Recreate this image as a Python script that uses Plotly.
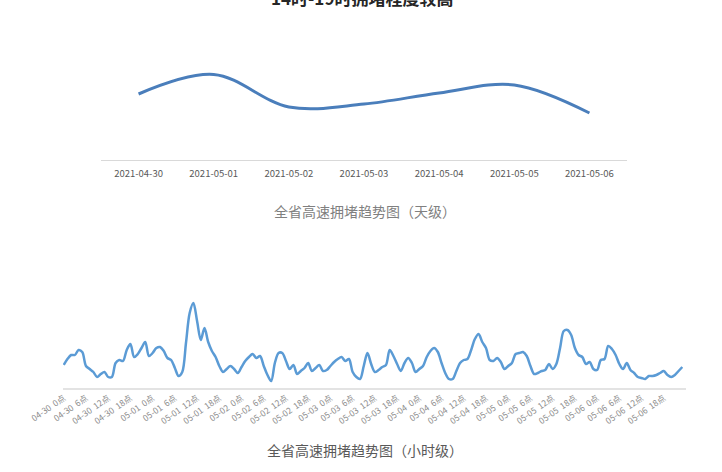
import plotly.graph_objects as go

W, H = 722, 472

# ---- daily data ----
days = ["2021-04-30", "2021-05-01", "2021-05-02", "2021-05-03",
        "2021-05-04", "2021-05-05", "2021-05-06"]
daily_values = [66, 85.5, 53, 56, 67, 75, 47]

# ---- hourly data (04-30 0点 .. 05-06 23点) ----
hourly_values = [
    23, 29, 33, 33, 38, 36, 22, 19, 16, 11, 14, 16,
    11, 11, 25, 28, 27, 38, 44, 31, 34, 40, 46, 32,
    35, 40, 41, 37, 30, 28, 20, 12, 16, 45, 75, 85,
    67, 48, 60, 46, 37, 31, 22, 16, 19, 22, 19, 15,
    21, 27, 31, 34, 30, 32, 22, 13, 7, 25, 35, 35,
    27, 19, 23, 14, 17, 20, 25, 17, 20, 23, 17, 18,
    22, 26, 29, 31, 27, 29, 16, 11, 9, 22, 35, 24,
    16, 18, 21, 23, 38, 32, 24, 17, 25, 30, 25, 16,
    19, 22, 31, 37, 40, 36, 25, 15, 9, 9, 17, 25,
    28, 29, 38, 49, 54, 46, 40, 28, 27, 30, 26, 19,
    22, 25, 34, 35, 36, 32, 22, 14, 15, 17, 18, 24,
    19, 24, 40, 57, 58, 53, 40, 33, 31, 24, 26, 19,
    18, 28, 29, 42, 39, 33, 24, 19, 25, 18, 15, 11,
    10, 9, 12, 12, 13, 15, 17, 13, 11, 13, 17, 21,
]
hour_index = list(range(len(hourly_values)))

hour_tick_labels = [
    "04-30  0点", "04-30  6点", "04-30  12点", "04-30  18点",
    "05-01  0点", "05-01  6点", "05-01  12点", "05-01  18点",
    "05-02  0点", "05-02  6点", "05-02  12点", "05-02  18点",
    "05-03  0点", "05-03  6点", "05-03  12点", "05-03  18点",
    "05-04  0点", "05-04  6点", "05-04  12点", "05-04  18点",
    "05-05  0点", "05-05  6点", "05-05  12点", "05-05  18点",
    "05-06  0点", "05-06  6点", "05-06  12点", "05-06  18点",
]
hour_tick_vals = list(range(0, 168, 6))

title_text = "14时-19时拥堵程度较高"
caption_daily = "全省高速拥堵趋势图（天级）"
caption_hourly = "全省高速拥堵趋势图（小时级）"

FONT = "Noto Sans CJK SC"

def px_x(p):
    return p / W

def px_y(p):
    return 1 - p / H

fig = go.Figure()

fig.add_trace(go.Scatter(
    x=days, y=daily_values, mode="lines",
    line=dict(color="#4a7ebb", width=3, shape="spline", smoothing=1.0),
    xaxis="x", yaxis="y", hoverinfo="skip", showlegend=False,
))

fig.add_trace(go.Scatter(
    x=hour_index, y=hourly_values, mode="lines",
    line=dict(color="#5b9bd5", width=2.5, shape="spline", smoothing=0.9),
    xaxis="x2", yaxis="y2", hoverinfo="skip", showlegend=False,
))

fig.update_layout(
    width=W, height=H,
    margin=dict(l=0, r=0, t=0, b=0, autoexpand=False),
    paper_bgcolor="white", plot_bgcolor="white",
    font=dict(family=FONT),
    xaxis=dict(
        domain=[px_x(101), px_x(627)],
        type="category", range=[-0.5, 6.5],
        showgrid=False, zeroline=False, automargin=False,
        showline=True, linecolor="#d9d9d9", linewidth=1,
        ticks="", ticklabelstandoff=5,
        tickfont=dict(size=9.5, color="#595959", family=FONT),
        anchor="y",
    ),
    yaxis=dict(
        domain=[px_y(160), px_y(40)], automargin=False,
        range=[0, 120], visible=False, anchor="x",
    ),
    xaxis2=dict(
        domain=[px_x(63), px_x(686)],
        range=[-0.2, 168.0],
        showgrid=False, zeroline=False, automargin=False,
        showline=True, linecolor="#e3e3e3", linewidth=2,
        ticks="", tickmode="array",
        tickvals=hour_tick_vals, ticktext=hour_tick_labels,
        tickangle=-35,
        tickfont=dict(size=8.5, color="#8c8c8c", family=FONT),
        anchor="y2",
    ),
    yaxis2=dict(
        domain=[px_y(388), px_y(258)], automargin=False,
        range=[0, 130], visible=False, anchor="x2",
    ),
    annotations=[
        dict(text="<b>" + title_text + "</b>", x=px_x(362), y=px_y(12),
             xref="paper", yref="paper", xanchor="center", yanchor="bottom",
             showarrow=False, font=dict(size=17, color="#262626", family=FONT)),
        dict(text=caption_daily, x=px_x(365), y=px_y(211),
             xref="paper", yref="paper", xanchor="center", yanchor="middle",
             showarrow=False, font=dict(size=14, color="#808080", family=FONT)),
        dict(text=caption_hourly, x=px_x(365), y=px_y(450),
             xref="paper", yref="paper", xanchor="center", yanchor="middle",
             showarrow=False, font=dict(size=14, color="#595959", family=FONT)),
    ],
)

fig.write_html("out.html", config={"displayModeBar": False},
               post_script="document.body.style.margin='0px';")
